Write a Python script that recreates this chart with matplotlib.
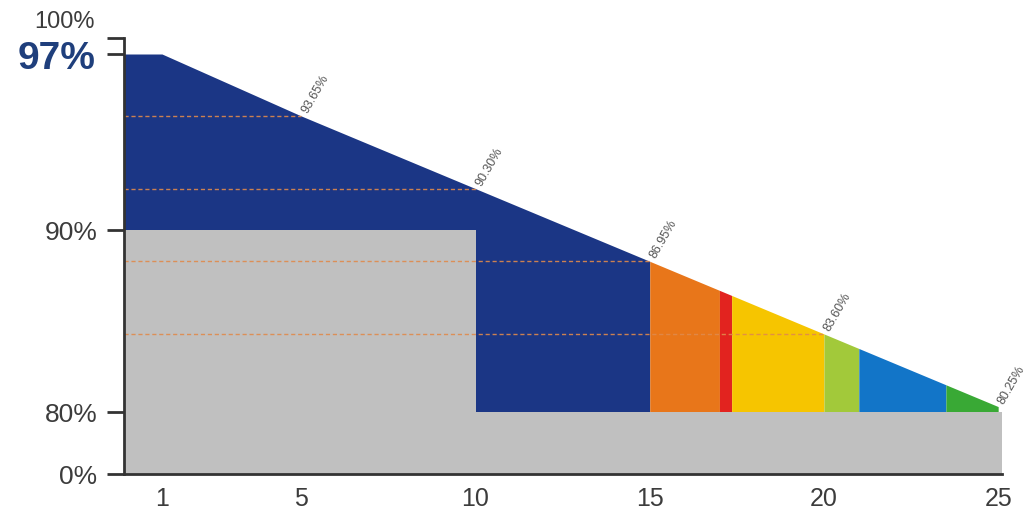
# Linear power warranty chart: guaranteed output over 25 years

import numpy as np
import matplotlib.pyplot as plt

# Data
years_ticks = [1, 5, 10, 15, 20, 25]
slope_years = [1, 5, 10, 15, 20, 25]
slope_vals = [97.0, 93.65, 90.30, 86.95, 83.60, 80.25]
labelled_years = [5, 10, 15, 20, 25]
labelled_vals = [93.65, 90.30, 86.95, 83.60, 80.25]
dotted_years = [5, 10, 15, 20]
dotted_vals = [93.65, 90.30, 86.95, 83.60]
# grey "standard warranty" steps
grey_upper_end = 10
grey_upper_val = 88.4
grey_lower_val = 80.0
# coloured bands under the slope: (start year, end year, colour)
band_edges = [15, 17, 17.35, 20, 21, 23.5, 25]
band_colors = ["#e8761a", "#e2231f", "#f6c500", "#a2c93a", "#1275c8", "#39a935"]
ytick_vals = [0, 80, 88.4]
ytick_labels = ["0%", "80%", "90%"]

NAVY = "#1b3685"
GREY = "#c0c0c0"
TXT = "#3c3c3c"

plt.rcParams["font.family"] = ["Liberation Sans", "DejaVu Sans"]

# piecewise y scale (the source draws the axis non-uniformly)
y_brk = [0, 80, 93.65, 97, 100]
y_pos = [0, 62, 358, 420, 436]


def fwd(v):
    return np.interp(v, y_brk, y_pos)


def inv(p):
    return np.interp(p, y_pos, y_brk)


def slope_at(x):
    return np.interp(x, slope_years, slope_vals)


def band(x0, x1):
    inner = [y for y in slope_years if x0 < y < x1]
    xs = np.array([x0] + inner + [x1], dtype=float)
    return xs, slope_at(xs)


def main():
    fig = plt.figure(figsize=(10.28, 5.10), dpi=100)
    ax = fig.add_axes([124 / 1028, 35 / 510, 878 / 1028, 436 / 510])
    ax.set_yscale("function", functions=(fwd, inv))
    x0, x1 = -0.09, 25.11
    ax.set_xlim(x0, x1)
    ax.set_ylim(0, 100)

    # flat top before year 1 + the slope
    top_x = np.array([x0] + slope_years, dtype=float)
    top_y = np.array([slope_vals[0]] + slope_vals)

    # navy area up to year 15
    m = top_x <= band_edges[0]
    bx = np.append(top_x[m], band_edges[0])
    by = np.append(top_y[m], slope_at(band_edges[0]))
    ax.fill_between(bx, grey_lower_val, by, color=NAVY, lw=0)

    # coloured bands
    for i, c in enumerate(band_colors):
        xs, ys = band(band_edges[i], band_edges[i + 1])
        ax.fill_between(xs, grey_lower_val, ys, color=c, lw=0)

    # grey guarantee blocks
    ax.fill_between([x0, x1], 0, grey_lower_val, color=GREY, lw=0)
    ax.fill_between([x0, grey_upper_end], 0, grey_upper_val, color=GREY, lw=0)

    # dotted reference lines
    for yr, v in zip(dotted_years, dotted_vals):
        ax.plot([x0, yr], [v, v], color="#e08a4c", lw=1.0, ls=(0, (3, 2)), alpha=0.9)

    # value labels along the slope
    for yr, v in zip(labelled_years, labelled_vals):
        ax.annotate(f"{v:.2f}%", (yr, v), xytext=(6, 1), textcoords="offset points",
                    rotation=60, rotation_mode="anchor", ha="left", va="bottom",
                    fontsize=9, color="#555555")

    # axes styling
    for s in ["top", "right"]:
        ax.spines[s].set_visible(False)
    ax.spines["left"].set_linewidth(2)
    ax.spines["bottom"].set_linewidth(2)
    ax.spines["left"].set_color("#333333")
    ax.spines["bottom"].set_color("#333333")

    ax.set_xticks(years_ticks)
    ax.set_xticklabels([str(y) for y in years_ticks])
    ax.tick_params(axis="x", length=0, pad=9, labelsize=18, labelcolor=TXT)

    ax.set_yticks(ytick_vals + [97, 100])
    ax.set_yticklabels(ytick_labels + ["", ""])
    ax.tick_params(axis="y", length=12, width=2, color="#333333", pad=7,
                   labelsize=19, labelcolor=TXT)

    ytr = ax.get_yaxis_transform()
    ax.text(-0.033, 96.8, "97%", transform=ytr, ha="right", va="center",
            fontsize=28, fontweight="bold", color="#1f3f7c")
    ax.annotate("100%", (0, 100), xycoords=ytr, xytext=(-43, 12),
                textcoords="offset points", ha="center", va="center",
                fontsize=17, color=TXT)

    fig.savefig("out.png", dpi=100)


if __name__ == "__main__":
    main()
